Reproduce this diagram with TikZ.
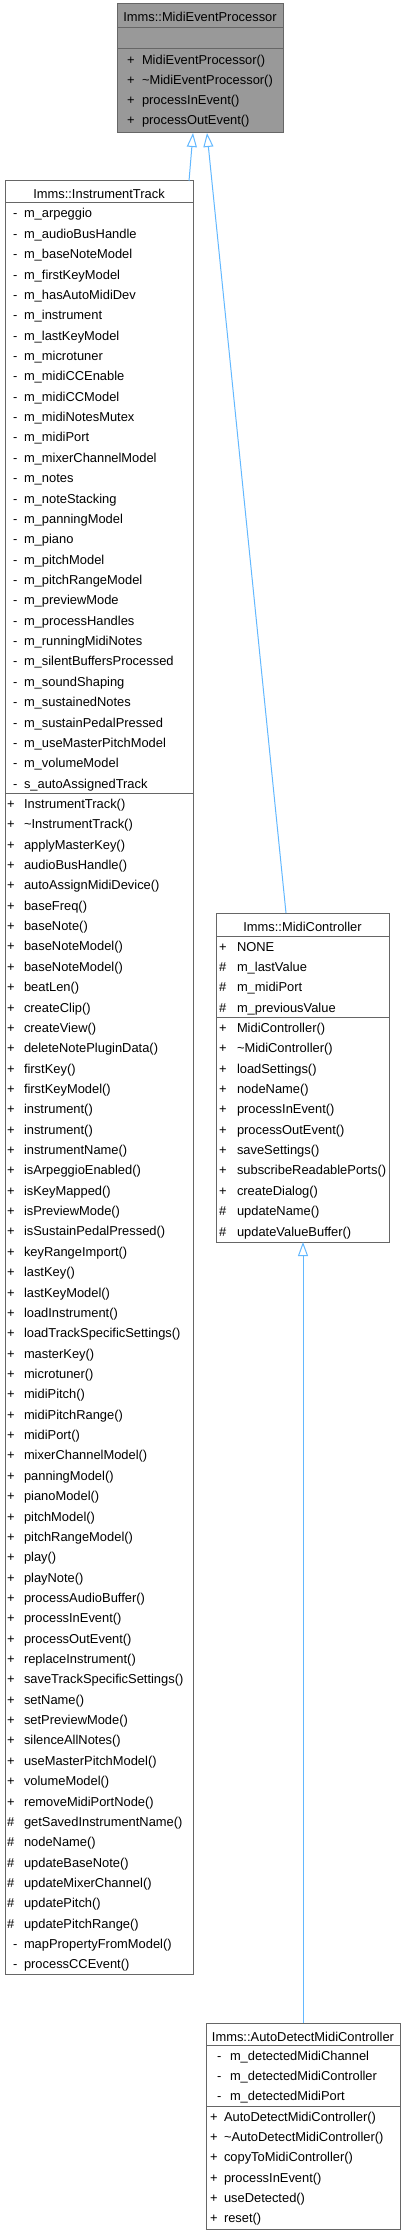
\documentclass[tikz,border=0pt]{standalone}
\usepackage{fontspec}
\setmainfont{Liberation Sans}
\usetikzlibrary{arrows.meta,calc}
\definecolor{edgeblue}{HTML}{63B8FF}
\definecolor{boxgray}{HTML}{666666}
\definecolor{hlfill}{HTML}{999999}
\begin{document}
\begin{tikzpicture}[x=1pt,y=-1pt, font=\fontsize{12.9}{15}\selectfont,
 box/.style={draw=boxgray, line width=1pt, fill=white, rectangle, inner sep=0pt, outer sep=0pt, anchor=north west},
 sepline/.style={draw=boxgray, line width=1pt},
 txt/.style={anchor=base west, inner sep=0pt, outer sep=0pt},
 ttl/.style={anchor=base, inner sep=0pt, outer sep=0pt},
 inh/.style={draw=edgeblue, line width=1pt, -{Triangle[open, length=14pt, width=10pt]}}]
\useasboundingbox (0,0) rectangle (405,2237);

% ---------- MidiEventProcessor ----------
\node[box, fill=hlfill, minimum width=166pt, minimum height=129pt] (mep) at (117,4) {};
\node[ttl] (mep-t) at (200,22) {Imms::MidiEventProcessor};
\draw[sepline] (mep.west |- 0,28) -- (mep.east |- 0,28);
\draw[sepline] (mep.west |- 0,49) -- (mep.east |- 0,49);
\foreach \n [count=\i from 0] in {MidiEventProcessor(), \textasciitilde MidiEventProcessor(), processInEvent(), processOutEvent()} {
  \node[txt] (mep-s\i) at (127, {65+19.7*\i}) {+};
  \node[txt] (mep-m\i) at (142, {65+19.7*\i}) {\n};
}

% ---------- InstrumentTrack ----------
\node[box, minimum width=188pt, minimum height=1793.3pt] (it) at (5,181) {};
\node[ttl] (it-t) at (99,199) {Imms::InstrumentTrack};
\draw[sepline] (it.west |- 0,203) -- (it.east |- 0,203);
\draw[sepline] (it.west |- 0,793.4) -- (it.east |- 0,793.4);
\foreach \n [count=\i from 0] in {m\_arpeggio, m\_audioBusHandle, m\_baseNoteModel, m\_firstKeyModel, m\_hasAutoMidiDev, m\_instrument, m\_lastKeyModel, m\_microtuner, m\_midiCCEnable, m\_midiCCModel, m\_midiNotesMutex, m\_midiPort, m\_mixerChannelModel, m\_notes, m\_noteStacking, m\_panningModel, m\_piano, m\_pitchModel, m\_pitchRangeModel, m\_previewMode, m\_processHandles, m\_runningMidiNotes, m\_silentBuffersProcessed, m\_soundShaping, m\_sustainedNotes, m\_sustainPedalPressed, m\_useMasterPitchModel, m\_volumeModel, s\_autoAssignedTrack} {
  \node[txt] (it-as\i) at (13, {218+20.36*\i}) {-};
  \node[txt] (it-a\i) at (24, {218+20.36*\i}) {\n};
}
\foreach \n [count=\i from 0] in {InstrumentTrack(), \textasciitilde InstrumentTrack(), applyMasterKey(), audioBusHandle(), autoAssignMidiDevice(), baseFreq(), baseNote(), baseNoteModel(), baseNoteModel(), beatLen(), createClip(), createView(), deleteNotePluginData(), firstKey(), firstKeyModel(), instrument(), instrument(), instrumentName(), isArpeggioEnabled(), isKeyMapped(), isPreviewMode(), isSustainPedalPressed(), keyRangeImport(), lastKey(), lastKeyModel(), loadInstrument(), loadTrackSpecificSettings(), masterKey(), microtuner(), midiPitch(), midiPitchRange(), midiPort(), mixerChannelModel(), panningModel(), pianoModel(), pitchModel(), pitchRangeModel(), play(), playNote(), processAudioBuffer(), processInEvent(), processOutEvent(), replaceInstrument(), saveTrackSpecificSettings(), setName(), setPreviewMode(), silenceAllNotes(), useMasterPitchModel(), volumeModel(), removeMidiPortNode()} {
  \node[txt] (it-ms\i) at (7, {808.4+20.36*\i}) {+};
  \node[txt] (it-m\i) at (24, {808.4+20.36*\i}) {\n};
}
\foreach \n [count=\i from 50] in {getSavedInstrumentName(), nodeName(), updateBaseNote(), updateMixerChannel(), updatePitch(), updatePitchRange()} {
  \node[txt] (it-ms\i) at (7, {808.4+20.36*\i}) {\#};
  \node[txt] (it-m\i) at (24, {808.4+20.36*\i}) {\n};
}
\foreach \n [count=\i from 56] in {mapPropertyFromModel(), processCCEvent()} {
  \node[txt] (it-ms\i) at (13, {808.4+20.36*\i}) {-};
  \node[txt] (it-m\i) at (24, {808.4+20.36*\i}) {\n};
}

% ---------- MidiController ----------
\node[box, minimum width=173pt, minimum height=329pt] (mc) at (216,913) {};
\node[ttl] (mc-t) at (302.5,931) {Imms::MidiController};
\draw[sepline] (mc.west |- 0,936) -- (mc.east |- 0,936);
\draw[sepline] (mc.west |- 0,1017.4) -- (mc.east |- 0,1017.4);
\foreach \s/\n [count=\i from 0] in {+/NONE, \#/m\_lastValue, \#/m\_midiPort, \#/m\_previousValue} {
  \node[txt] (mc-as\i) at (219, {951+20.36*\i}) {\s};
  \node[txt] (mc-a\i) at (237, {951+20.36*\i}) {\n};
}
\foreach \s/\n [count=\i from 0] in {+/MidiController(), +/\textasciitilde MidiController(), +/loadSettings(), +/nodeName(), +/processInEvent(), +/processOutEvent(), +/saveSettings(), +/subscribeReadablePorts(), +/createDialog(), \#/updateName(), \#/updateValueBuffer()} {
  \node[txt] (mc-ms\i) at (219, {1032.4+20.36*\i}) {\s};
  \node[txt] (mc-m\i) at (237, {1032.4+20.36*\i}) {\n};
}

% ---------- AutoDetectMidiController ----------
\node[box, minimum width=194pt, minimum height=206pt] (ad) at (206,2023) {};
\node[ttl] (ad-t) at (303,2041) {Imms::AutoDetectMidiController};
\draw[sepline] (ad.west |- 0,2045) -- (ad.east |- 0,2045);
\draw[sepline] (ad.west |- 0,2106.1) -- (ad.east |- 0,2106.1);
\foreach \n [count=\i from 0] in {m\_detectedMidiChannel, m\_detectedMidiController, m\_detectedMidiPort} {
  \node[txt] (ad-as\i) at (217, {2060+20.36*\i}) {-};
  \node[txt] (ad-a\i) at (230, {2060+20.36*\i}) {\n};
}
\foreach \n [count=\i from 0] in {AutoDetectMidiController(), \textasciitilde AutoDetectMidiController(), copyToMidiController(), processInEvent(), useDetected(), reset()} {
  \node[txt] (ad-ms\i) at (210, {2121.1+20.36*\i}) {+};
  \node[txt] (ad-m\i) at (224, {2121.1+20.36*\i}) {\n};
}

% ---------- inheritance ----------
\draw[inh] ($(it.north east)+(-4,0)$) -- ($(mep.south)+(-7,0)$);
\draw[inh] ($(mc.north)+(-16.5,0)$) -- ($(mep.south)+(7,0)$);
\draw[inh] (ad.north) -- (ad.north |- mc.south);
\end{tikzpicture}
\end{document}
